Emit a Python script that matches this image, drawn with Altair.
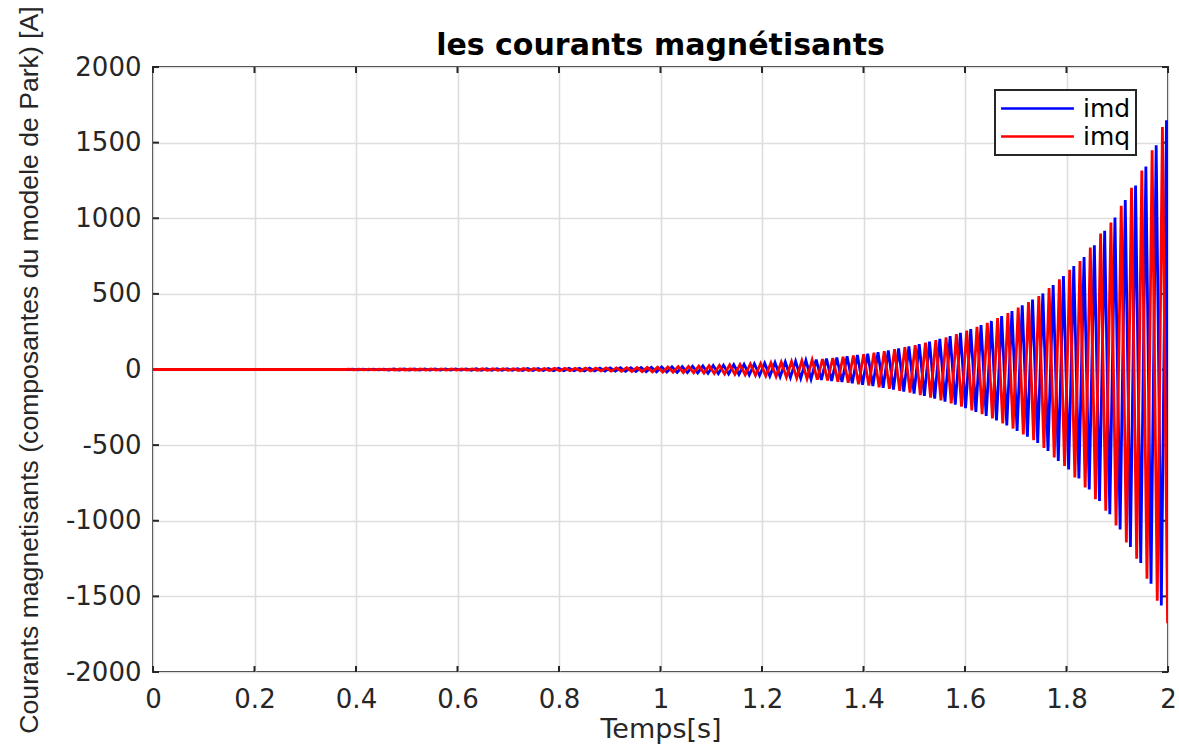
import altair as alt
import numpy as np
import pandas as pd

# ---------------- data ----------------
chart_title = "les courants magnétisants"
x_title = "Temps[s]"
y_title = "Courants magnetisants (composantes du modele de Park) [A]"
series_names = ["imd", "imq"]
series_colors = ["#0000ff", "#ff0000"]
x_ticks = [0, 0.2, 0.4, 0.6, 0.8, 1, 1.2, 1.4, 1.6, 1.8, 2]
y_ticks = [-2000, -1500, -1000, -500, 0, 500, 1000, 1500, 2000]

# oscillation period (s) and time of the first visible crest of each current
period = 0.0203
imd_first_crest = 0.3933
imq_first_crest = 0.3853
t_end = 2.0

# successive crests (maxima) and troughs (minima), oldest first
imd_max = [2.6, 2.7, 2.8, 2.9, 3.0, 3.1, 3.2, 3.4, 3.6, 3.8,
           4.0, 4.3, 4.6, 4.9, 5.2, 5.5, 5.9, 6.3, 6.7, 7.1,
           7.6, 8.1, 8.6, 9.2, 9.8,
           10.5, 11.4, 12.4, 13.6, 14.9, 16.3, 17.9, 19.7, 21.6, 23.7,
           26, 28.6, 31.4, 34.4, 37.8, 41.5, 45.5, 50, 55, 60,
           66, 72, 79, 87, 96, 105, 115, 126, 139, 152,
           167, 184, 202, 221, 243, 267, 293, 321, 353, 387,
           425, 463, 503, 558, 618, 684, 744, 822, 917, 1005,
           1121, 1216, 1342, 1482, 1648]
imd_min = [-2.7, -2.8, -2.9, -3.0, -3.1, -3.2, -3.4, -3.6, -3.8, -4.0,
           -4.2, -4.5, -4.8, -5.1, -5.4, -5.8, -6.2, -6.6, -7.0, -7.4,
           -8.0, -8.5, -9.0, -9.6, -10.3,
           -11.0, -11.9, -13.0, -14.3, -15.6, -17.1, -18.8, -20.6, -22.6, -24.8,
           -27.2, -30, -32.9, -36, -39.6, -43.5, -48, -52, -58, -63,
           -69, -75, -83, -91, -101, -110, -121, -132, -146, -159,
           -175, -193, -212, -232, -255, -280, -307, -336, -370, -406,
           -445, -485, -538, -604, -661, -721, -794, -869, -957, -1058,
           -1174, -1279, -1416, -1560]
imd_last = -1490

imq_max = [2.5, 2.6, 2.7, 2.8, 2.9, 3.0, 3.1, 3.3, 3.5, 3.7,
           3.9, 4.1, 4.4, 4.7, 5.0, 5.3, 5.7, 6.1, 6.5, 6.8,
           7.3, 7.8, 8.3, 8.9, 9.4,
           10.1, 11, 12, 13.1, 14.4, 15.7, 17.3, 19, 20.8, 22.8,
           25.1, 27.6, 30.3, 33.2, 36.4, 40, 43.9, 48.2, 53, 57.8,
           63.6, 69.4, 76.2, 83.9, 92.5, 101, 111, 121, 134, 147,
           161, 177, 195, 213, 234, 257, 282, 309, 340, 373,
           410, 446, 485, 538, 596, 659, 717, 806, 899, 972,
           1083, 1201, 1316, 1449, 1603]
imq_min = [-2.6, -2.7, -2.8, -2.9, -3.0, -3.1, -3.3, -3.5, -3.7, -3.9,
           -4.0, -4.3, -4.6, -4.9, -5.2, -5.6, -6.0, -6.4, -6.7, -7.1,
           -7.7, -8.2, -8.7, -9.3, -9.9,
           -10.6, -11.5, -12.5, -13.8, -15, -16.5, -18.1, -19.9, -21.8, -23.9,
           -26.2, -28.9, -31.7, -34.7, -38.2, -41.9, -46.3, -50.1, -55.9, -60.7,
           -66.5, -72.3, -80, -87.7, -97.4, -106, -117, -127, -141, -153,
           -169, -186, -204, -224, -246, -270, -296, -324, -357, -391,
           -429, -468, -519, -582, -637, -714, -780, -857, -934, -1032,
           -1143, -1251, -1384, -1528, -1677]
imq_last = -1670


def build(name, first, maxima, minima, last):
    t = [0.0, first - period / 4]
    v = [0.0, 0.0]
    for i, hi in enumerate(maxima):
        tc = first + i * period
        t.append(tc)
        v.append(hi)
        if i < len(minima):
            t.append(tc + period / 2)
            v.append(minima[i])
    t.append(t_end)
    v.append(last)
    return pd.DataFrame({"t": t, "value": v, "series": name})


df = pd.concat([
    build(series_names[0], imd_first_crest, imd_max, imd_min, imd_last),
    build(series_names[1], imq_first_crest, imq_max, imq_min, imq_last),
], ignore_index=True)

xt = pd.DataFrame({"t": x_ticks})
yt = pd.DataFrame({"value": y_ticks})

# ---------------- styling ----------------
DARK = "#262626"
FONT = "DejaVu Sans"
xscale = alt.Scale(domain=[0, 2], nice=False, zero=False)
yscale = alt.Scale(domain=[-2000, 2000], nice=False, zero=False)

x_axis = alt.Axis(
    values=x_ticks, labelExpr="'' + datum.value", title=x_title,
    tickSize=0, domain=False, grid=True, gridColor="#dedede", gridWidth=1.6,
    labelFont=FONT, labelFontSize=26, labelColor=DARK, labelPadding=14,
    labelFlush=False, labelOverlap=False,
    titleFont=FONT, titleFontSize=27, titleFontWeight="normal",
    titleColor=DARK, titlePadding=4)
y_axis = alt.Axis(
    values=y_ticks, labelExpr="'' + datum.value", title=y_title,
    tickSize=0, domain=False, grid=True, gridColor="#dedede", gridWidth=1.6,
    labelFont=FONT, labelFontSize=26, labelColor=DARK, labelPadding=12,
    labelFlush=False, labelOverlap=False,
    titleFont="Liberation Sans", titleFontSize=26.6, titleFontWeight="normal",
    titleColor=DARK, titlePadding=22)

lines = alt.Chart(df).mark_line(strokeWidth=2.8, clip=True).encode(
    x=alt.X("t:Q", scale=xscale, axis=x_axis),
    y=alt.Y("value:Q", scale=yscale, axis=y_axis),
    color=alt.Color("series:N",
                    scale=alt.Scale(domain=series_names, range=series_colors),
                    legend=alt.Legend(
                        title=None, orient="none", legendX=842, legendY=23,
                        symbolType="M-3,0H3", symbolSize=590,
                        symbolStrokeWidth=2.5, symbolOffset=24, labelOffset=32,
                        labelFont=FONT, labelFontSize=25, labelColor="black",
                        padding=5, rowPadding=1,
                        strokeColor=DARK, fillColor="white")),
)

tick_style = dict(color=DARK, strokeWidth=2)
bottom_ticks = alt.Chart(xt).mark_rule(y2Offset=-6, **tick_style).encode(
    x=alt.X("t:Q", scale=xscale, axis=x_axis),
    y=alt.datum(-2000, scale=yscale, axis=y_axis), y2=alt.datum(-2000))
top_ticks = alt.Chart(xt).mark_rule(y2Offset=6, **tick_style).encode(
    x=alt.X("t:Q", scale=xscale, axis=x_axis),
    y=alt.datum(2000, scale=yscale, axis=y_axis), y2=alt.datum(2000))
left_ticks = alt.Chart(yt).mark_rule(x2Offset=6, **tick_style).encode(
    y=alt.Y("value:Q", scale=yscale, axis=y_axis),
    x=alt.datum(0, scale=xscale, axis=x_axis), x2=alt.datum(0))
right_ticks = alt.Chart(yt).mark_rule(x2Offset=-6, **tick_style).encode(
    y=alt.Y("value:Q", scale=yscale, axis=y_axis),
    x=alt.datum(2, scale=xscale, axis=x_axis), x2=alt.datum(2))

chart = alt.layer(
    bottom_ticks, top_ticks, left_ticks, right_ticks, lines
).properties(
    width=1015, height=605,
    background="white",
    title=alt.TitleParams(text=chart_title, font=FONT, fontSize=30,
                          fontWeight="bold", color="black", anchor="middle",
                          frame="group", offset=6, dy=61),
    autosize=alt.AutoSizeParams(type="none"),
    padding={"left": 153, "top": 67, "right": 11, "bottom": 77},
).configure_view(
    stroke=DARK, strokeWidth=2
).configure_legend(
    strokeWidth=2
)

chart.save("out.html", embed_options={"renderer": "svg", "actions": False})
